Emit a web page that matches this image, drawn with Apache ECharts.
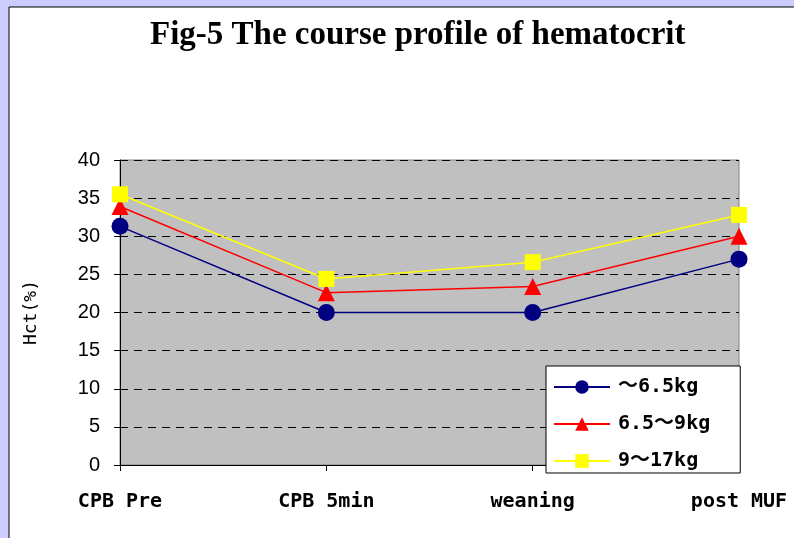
<!DOCTYPE html>
<html>
<head>
<meta charset="utf-8">
<script src="https://cdn.jsdelivr.net/npm/echarts@6/dist/echarts.min.js"></script>
<style>
  html, body { margin: 0; padding: 0; background: #CCCCFF; }
  #chart { width: 794px; height: 538px; }
</style>
</head>
<body>
<div id="chart"></div>
<script>
  // Data
  const stages = ['CPB Pre', 'CPB 5min', 'weaning', 'post MUF'];
  const seriesNames = ['～6.5kg', '6.5～9kg', '9～17kg'];
  const hctLight = [31.3, 20.0, 20.0, 27.0];
  const hctMid = [33.9, 22.6, 23.4, 30.0];
  const hctHeavy = [35.5, 24.4, 26.6, 32.8];

  const chart = echarts.init(document.getElementById('chart'));

  const LABEL_FONT = "'DejaVu Sans Mono', 'Noto Sans CJK JP', monospace";

  function lineSeries(name, data, color, symbol, size) {
    return {
      name: name,
      type: 'line',
      data: data,
      symbol: symbol,
      symbolSize: size,
      lineStyle: { color: color, width: 1.5 },
      itemStyle: { color: color },
      emphasis: { disabled: true }
    };
  }

  chart.setOption({
    backgroundColor: '#CCCCFF',
    animation: false,
    graphic: [
      {
        type: 'rect', z: -10,
        shape: { x: 9, y: 7, width: 800, height: 540 },
        style: { fill: '#FFFFFF', stroke: '#000000', lineWidth: 1 }
      }
    ],
    title: {
      text: 'Fig-5 The course profile of hematocrit',
      left: 145,
      top: 14,
      textStyle: {
        fontFamily: "'Liberation Serif', 'Times New Roman', serif",
        fontWeight: 'bold',
        fontSize: 33,
        color: '#000'
      }
    },
    grid: {
      left: 120, right: 55, top: 160, bottom: 73,
      show: true,
      backgroundColor: '#C0C0C0',
      borderColor: '#808080',
      borderWidth: 1
    },
    legend: {
      orient: 'vertical',
      left: 546,
      top: 366,
      backgroundColor: '#FFFFFF',
      borderColor: '#000000',
      borderWidth: 1,
      borderRadius: 0,
      padding: [11, 30, 2, 7],
      itemWidth: 56,
      itemHeight: 17,
      itemGap: 17,
      data: seriesNames,
      textStyle: {
        fontFamily: LABEL_FONT,
        fontWeight: 'bold',
        fontSize: 20,
        color: '#000',
        padding: [0, 0, 0, 3]
      }
    },
    xAxis: {
      type: 'category',
      data: stages,
      boundaryGap: false,
      axisLine: { lineStyle: { color: '#000', width: 1 } },
      axisTick: { show: true, length: 6, alignWithLabel: true, lineStyle: { color: '#000' } },
      axisLabel: {
        margin: 27,
        fontFamily: LABEL_FONT,
        fontWeight: 'bold',
        fontSize: 20,
        color: '#000'
      },
      splitLine: { show: false }
    },
    yAxis: {
      type: 'value',
      min: 0,
      max: 40,
      interval: 5,
      name: 'Hct(%)',
      nameLocation: 'middle',
      nameGap: 80,
      nameTextStyle: {
        fontFamily: LABEL_FONT,
        fontSize: 18,
        color: '#000'
      },
      axisLine: { show: true, lineStyle: { color: '#000', width: 1 } },
      axisTick: { show: true, length: 6, lineStyle: { color: '#000' } },
      axisLabel: {
        margin: 20,
        fontFamily: "'Liberation Sans', Arial, sans-serif",
        fontSize: 20,
        color: '#000'
      },
      splitLine: { show: true, lineStyle: { color: '#000', type: [8, 6], width: 1 } }
    },
    series: [
      lineSeries(seriesNames[0], hctLight, '#000080', 'circle', 17),
      lineSeries(seriesNames[1], hctMid, '#FF0000', 'triangle', 17),
      lineSeries(seriesNames[2], hctHeavy, '#FFFF00', 'rect', 16)
    ]
  });
</script>
</body>
</html>
